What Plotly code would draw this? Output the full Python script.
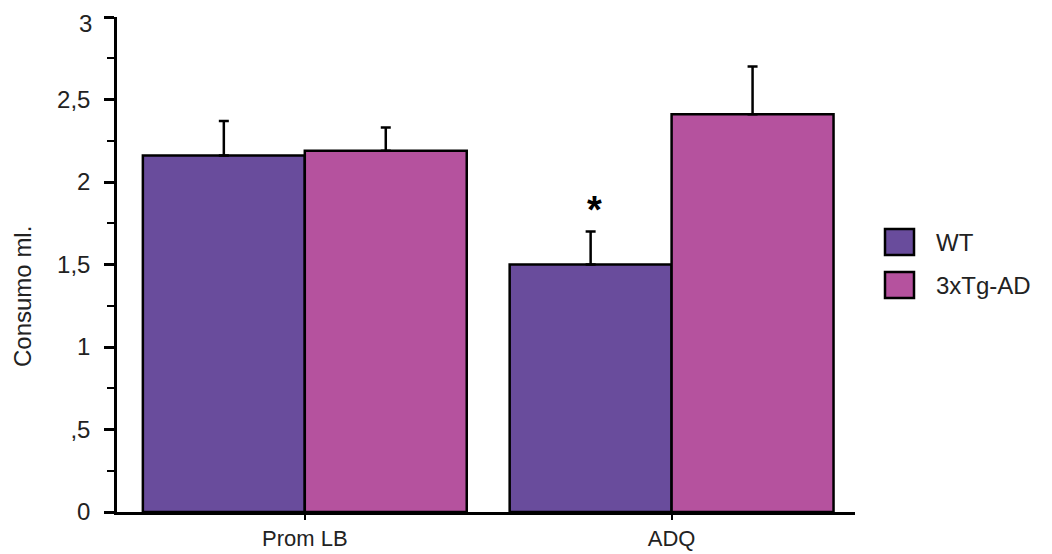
import plotly.graph_objects as go

categories = ["Prom LB", "ADQ"]
wt_values = [2.16, 1.50]
wt_errors = [0.21, 0.20]
tg_values = [2.19, 2.41]
tg_errors = [0.14, 0.29]
series_names = ["WT", "3xTg-AD"]
y_tickvals = [0, 0.5, 1, 1.5, 2, 2.5, 3]
y_ticktext = ["0", ",5", "1", "1,5", "2", "2,5", "3"]
y_title = "Consumo ml."
star_category = "ADQ"
star_value = 1.83

WT_COLOR = "#694c9c"
TG_COLOR = "#b5529e"
FONT = "Liberation Sans, Arial, sans-serif"

# page offset (body margin) compensation
OFF = 8
W, H = 1052 - OFF, 554 - OFF
PL, PR, PT, PB = 117, 855, 17, 512  # target plot area in page pixels
ml, mt = PL - OFF, PT - OFF
mr, mb = W - (PR - OFF), H - (PB - OFF)
pw, ph = PR - PL, PB - PT

fig = go.Figure()
for name, vals, errs, col in [
    (series_names[0], wt_values, wt_errors, WT_COLOR),
    (series_names[1], tg_values, tg_errors, TG_COLOR),
]:
    fig.add_trace(go.Bar(
        x=categories, y=vals, name=name,
        marker=dict(color=col, line=dict(color="black", width=2.5)),
        error_y=dict(type="data", array=errs, arrayminus=[0] * len(errs),
                     symmetric=False, color="black", thickness=2.5, width=5),
        showlegend=False,
    ))

# top tick label is drawn separately (shifted down, as in the reference)
axis_ticktext = y_ticktext[:-1] + [""]

fig.update_layout(
    template="none",
    width=W, height=H,
    margin=dict(l=ml, r=mr, t=mt, b=mb, pad=0),
    paper_bgcolor="white", plot_bgcolor="white",
    barmode="group", bargap=0.117, bargroupgap=0,
    font=dict(family=FONT, color="black"),
    xaxis=dict(
        range=[-0.512, 1.5], showline=True, linecolor="black", linewidth=2.5,
        ticks="outside", ticklen=5, tickwidth=1.5, tickcolor="black",
        tickfont=dict(size=22, color="#222"), showgrid=False, zeroline=False,
        automargin=False, ticklabeloverflow="allow",
    ),
    yaxis=dict(
        range=[0, 3], showline=True, linecolor="black", linewidth=2.5,
        tickvals=y_tickvals, ticktext=axis_ticktext,
        ticks="outside", ticklen=10, tickwidth=2.5, tickcolor="black",
        minor=dict(dtick=0.25, ticks="outside", ticklen=7, tickwidth=2, tickcolor="black"),
        tickfont=dict(size=24, color="#222"), showgrid=False, zeroline=False,
        ticklabelstandoff=9,
        automargin=False, ticklabeloverflow="allow",
    ),
)

fig.add_annotation(xref="paper", yref="y", x=(94 - PL) / pw, y=y_tickvals[-1],
                   yshift=-6, text=y_ticktext[-1], showarrow=False,
                   xanchor="right", yanchor="middle",
                   font=dict(size=24, color="#222"))

# y-axis title (placed like the reference, slightly below centre)
fig.add_annotation(xref="paper", yref="paper", x=(22 - PL) / pw, y=1 - (297 - PT) / ph,
                   text=y_title, textangle=-90, showarrow=False,
                   xanchor="center", yanchor="middle",
                   font=dict(size=24, color="#222"))

# significance star
fig.add_annotation(x=star_category, y=star_value, xshift=-77, text="<b>*</b>",
                   showarrow=False, font=dict(size=38, color="black"))

# legend drawn as swatches + labels
legend_items = [(series_names[0], WT_COLOR, 242), (series_names[1], TG_COLOR, 285)]
for label, col, yc in legend_items:
    fig.add_shape(type="rect", xref="paper", yref="paper",
                  x0=(885 - PL) / pw, x1=(914 - PL) / pw,
                  y0=1 - (yc + 13 - PT) / ph, y1=1 - (yc - 13 - PT) / ph,
                  fillcolor=col, line=dict(color="black", width=2.5))
    fig.add_annotation(xref="paper", yref="paper", x=(934 - PL) / pw,
                       y=1 - (yc - PT) / ph, text=label, showarrow=False,
                       xanchor="left", yanchor="middle",
                       font=dict(size=24, color="#222"))

fig.write_html("out.html")
